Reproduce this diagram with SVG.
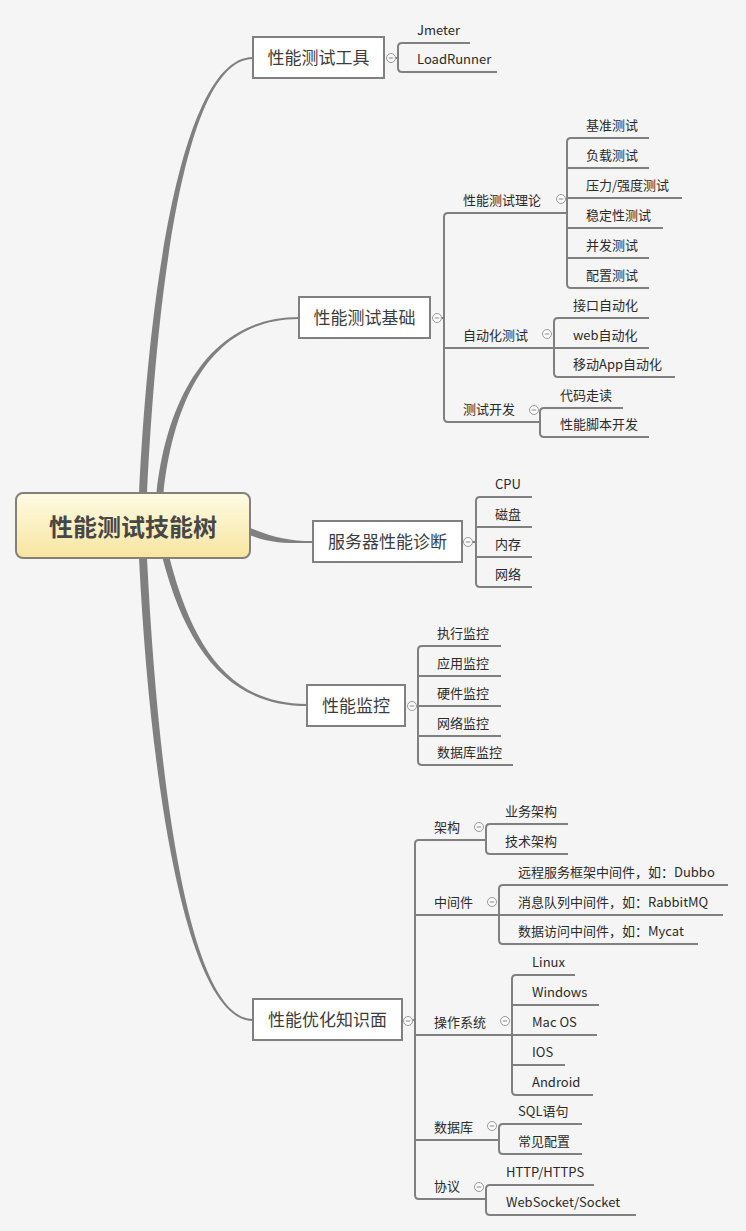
<svg xmlns="http://www.w3.org/2000/svg" width="746" height="1231" viewBox="0 0 746 1231">
<defs>
<linearGradient id="rootg" x1="0" y1="0" x2="0" y2="1">
<stop offset="0" stop-color="#fefbe4"/>
<stop offset="1" stop-color="#f7e59f"/>
</linearGradient>
<g id="minus">
<circle cx="0" cy="0" r="4.5" fill="#fafafa" stroke="#9a9a9a" stroke-width="1"/>
<line x1="-2.2" y1="0" x2="2.2" y2="0" stroke="#8a8a8a" stroke-width="1"/>
</g>
</defs>
<style>
text{font-family:"Noto Sans CJK SC","Noto Sans",sans-serif;}
.c{fill:none;stroke:#808080;stroke-width:2;}
.b{fill:#808080;stroke:none;}
.box{fill:#ffffff;stroke:#808080;stroke-width:2;}
.main{font-size:17px;fill:#3c3c3c;text-anchor:middle;}
.leaf{font-size:13px;fill:#2a2a2a;}
.root{font-size:24px;font-weight:bold;fill:#474747;text-anchor:middle;}
</style>
<rect x="0" y="0" width="746" height="1231" fill="#f5f5f5"/>
<g id="connectors">
<path class="b" d="M139 493 C151 250 189 57 253 57 L253 59 C191 59 159 250 147 493 Z"/>
<path class="b" d="M156.5 493 C166.5 400 209 317 299 317 L299 319 C211 319 173.5 400 163.5 493 Z"/>
<path class="b" d="M240 523.5 C268 536 285 541 313 541 L313 543 C285 543 266 544 240 530.5 Z"/>
<path class="b" d="M169.5 558 C193.5 650 231 704 307 704 L307 706 C229 706 186.5 650 162.5 558 Z"/>
<path class="b" d="M147 558 C159 800 191 1019 253 1019 L253 1021 C189 1021 151 800 139 558 Z"/>
<path class="c" d="M395.5 58 H398 M470 43 H402 Q398 43 398 47 V68 Q398 72 402 72 H497"/>
<path class="c" d="M441.5 318 H444 M567 213 H448 Q444 213 444 217 V418 Q444 422 448 422 H540 M444 348 H554"/>
<path class="c" d="M649 138 H571 Q567 138 567 142 V284 Q567 288 571 288 H649 M567 168 H649 M567 198 H682 M567 228 H663 M567 258 H649"/>
<path class="c" d="M649 318 H558 Q554 318 554 322 V373 Q554 377 558 377 H675 M554 348 H649"/>
<path class="c" d="M623 408 H544 Q540 408 540 412 V433 Q540 437 544 437 H649"/>
<path class="c" d="M472.5 542 H476 M532 497 H480 Q476 497 476 501 V583 Q476 587 480 587 H532 M476 527 H532 M476 557 H532"/>
<path class="c" d="M416.5 706 H418 M501 646 H422 Q418 646 418 650 V761 Q418 765 422 765 H513 M418 676 H501 M418 706 H501 M418 736 H501"/>
<path class="c" d="M412.5 1020 H415 M486 840 H419 Q415 840 415 844 V1195 Q415 1199 419 1199 H486 M415 915 H499 M415 1035 H512 M415 1140 H499"/>
<path class="c" d="M568 824 H490 Q486 824 486 828 V850 Q486 854 490 854 H568"/>
<path class="c" d="M728 885 H503 Q499 885 499 889 V940 Q499 944 503 944 H698 M499 915 H723"/>
<path class="c" d="M575 975 H516 Q512 975 512 979 V1091 Q512 1095 516 1095 H593 M512 1005 H599 M512 1035 H597 M512 1065 H565"/>
<path class="c" d="M582 1124 H503 Q499 1124 499 1128 V1150 Q499 1154 503 1154 H582"/>
<path class="c" d="M594 1185 H490 Q486 1185 486 1189 V1211 Q486 1215 490 1215 H636"/>
<use href="#minus" x="391" y="58"/>
<use href="#minus" x="437" y="318"/>
<use href="#minus" x="561" y="199"/>
<use href="#minus" x="547" y="334"/>
<use href="#minus" x="534" y="410"/>
<use href="#minus" x="468" y="542"/>
<use href="#minus" x="412" y="706"/>
<use href="#minus" x="408" y="1021"/>
<use href="#minus" x="479" y="827"/>
<use href="#minus" x="492" y="902"/>
<use href="#minus" x="505" y="1021"/>
<use href="#minus" x="492" y="1126"/>
<use href="#minus" x="479" y="1187"/>
</g>
<g id="root">
<rect x="16" y="493" width="234" height="65" rx="7" fill="url(#rootg)" stroke="#84817a" stroke-width="2"/>
<text class="root" x="133" y="535.5">性能测试技能树</text>
</g>
<g id="n-tools"><rect class="box" x="253" y="37" width="131" height="41"/><text class="main" x="318.5" y="63.5">性能测试工具</text></g>
<g id="n-jmeter"><text class="leaf" x="417" y="35">Jmeter</text></g>
<g id="n-loadrunner"><text class="leaf" x="417" y="64">LoadRunner</text></g>
<g id="n-basic"><rect class="box" x="299" y="297" width="131" height="41"/><text class="main" x="364.5" y="323.5">性能测试基础</text></g>
<g id="n-theory"><text class="leaf" x="463" y="205">性能测试理论</text></g>
<g id="n-t1"><text class="leaf" x="586" y="130">基准测试</text></g>
<g id="n-t2"><text class="leaf" x="586" y="160">负载测试</text></g>
<g id="n-t3"><text class="leaf" x="586" y="190">压力/强度测试</text></g>
<g id="n-t4"><text class="leaf" x="586" y="220">稳定性测试</text></g>
<g id="n-t5"><text class="leaf" x="586" y="250">并发测试</text></g>
<g id="n-t6"><text class="leaf" x="586" y="280">配置测试</text></g>
<g id="n-auto"><text class="leaf" x="463" y="340">自动化测试</text></g>
<g id="n-a1"><text class="leaf" x="573" y="310">接口自动化</text></g>
<g id="n-a2"><text class="leaf" x="573" y="340">web自动化</text></g>
<g id="n-a3"><text class="leaf" x="573" y="369">移动App自动化</text></g>
<g id="n-dev"><text class="leaf" x="463" y="414">测试开发</text></g>
<g id="n-d1"><text class="leaf" x="560" y="400">代码走读</text></g>
<g id="n-d2"><text class="leaf" x="560" y="429">性能脚本开发</text></g>
<g id="n-server"><rect class="box" x="313" y="521" width="149" height="41"/><text class="main" x="387.5" y="547.5">服务器性能诊断</text></g>
<g id="n-s1"><text class="leaf" x="495" y="489">CPU</text></g>
<g id="n-s2"><text class="leaf" x="495" y="519">磁盘</text></g>
<g id="n-s3"><text class="leaf" x="495" y="549">内存</text></g>
<g id="n-s4"><text class="leaf" x="495" y="579">网络</text></g>
<g id="n-monitor"><rect class="box" x="307" y="685" width="98" height="41"/><text class="main" x="356" y="711.5">性能监控</text></g>
<g id="n-m1"><text class="leaf" x="437" y="638">执行监控</text></g>
<g id="n-m2"><text class="leaf" x="437" y="668">应用监控</text></g>
<g id="n-m3"><text class="leaf" x="437" y="698">硬件监控</text></g>
<g id="n-m4"><text class="leaf" x="437" y="728">网络监控</text></g>
<g id="n-m5"><text class="leaf" x="437" y="757">数据库监控</text></g>
<g id="n-opt"><rect class="box" x="253" y="999" width="149" height="41"/><text class="main" x="327.5" y="1025.5">性能优化知识面</text></g>
<g id="n-arch"><text class="leaf" x="434" y="832">架构</text></g>
<g id="n-ar1"><text class="leaf" x="505" y="816">业务架构</text></g>
<g id="n-ar2"><text class="leaf" x="505" y="846">技术架构</text></g>
<g id="n-mid"><text class="leaf" x="434" y="907">中间件</text></g>
<g id="n-mi1"><text class="leaf" x="518" y="877">远程服务框架中间件，如：Dubbo</text></g>
<g id="n-mi2"><text class="leaf" x="518" y="907">消息队列中间件，如：RabbitMQ</text></g>
<g id="n-mi3"><text class="leaf" x="518" y="936">数据访问中间件，如：Mycat</text></g>
<g id="n-os"><text class="leaf" x="434" y="1027">操作系统</text></g>
<g id="n-o1"><text class="leaf" x="532" y="967">Linux</text></g>
<g id="n-o2"><text class="leaf" x="532" y="997">Windows</text></g>
<g id="n-o3"><text class="leaf" x="532" y="1027">Mac OS</text></g>
<g id="n-o4"><text class="leaf" x="532" y="1057">IOS</text></g>
<g id="n-o5"><text class="leaf" x="532" y="1087">Android</text></g>
<g id="n-db"><text class="leaf" x="434" y="1132">数据库</text></g>
<g id="n-db1"><text class="leaf" x="518" y="1116">SQL语句</text></g>
<g id="n-db2"><text class="leaf" x="518" y="1146">常见配置</text></g>
<g id="n-proto"><text class="leaf" x="434" y="1191">协议</text></g>
<g id="n-p1"><text class="leaf" x="506" y="1177">HTTP/HTTPS</text></g>
<g id="n-p2"><text class="leaf" x="506" y="1207">WebSocket/Socket</text></g>
</svg>
